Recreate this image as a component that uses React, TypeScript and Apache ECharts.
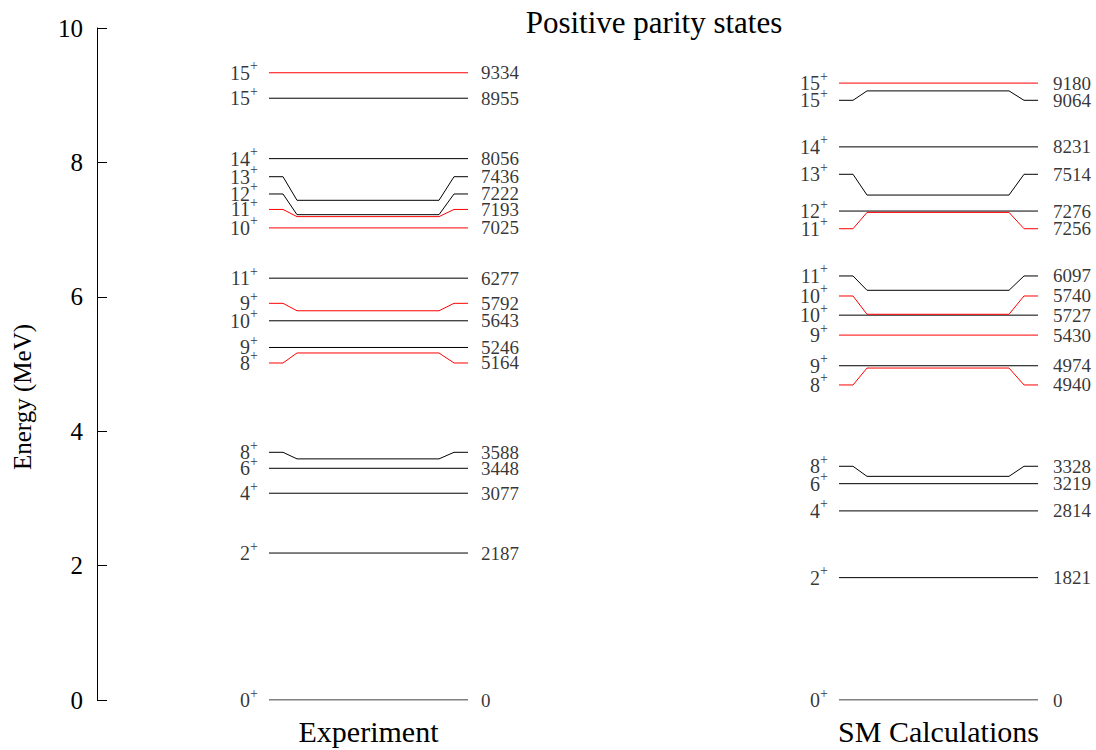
import React, { useEffect, useRef } from "react";
import * as echarts from "echarts";

// ---- data (energies in keV) ----
const expEnergies = [0, 2187, 3077, 3448, 3588, 5164, 5246, 5643, 5792, 6277, 7025, 7193, 7222, 7436, 8056, 8955, 9334];
const expSpins = ["0", "2", "4", "6", "8", "8", "9", "10", "9", "11", "10", "11", "12", "13", "14", "15", "15"];
const expRed = [false, false, false, false, false, true, false, false, true, false, true, true, false, false, false, false, true];
// energy at which the level's end stubs and labels sit (shifted to avoid overlap)
const expLabelEnergies = [0, 2187, 3077, 3448, 3686, 5015, 5246, 5643, 5903, 6277, 7025, 7300, 7530, 7787, 8056, 8955, 9334];

const smEnergies = [0, 1821, 2814, 3219, 3328, 4940, 4974, 5430, 5727, 5740, 6097, 7256, 7276, 7514, 8231, 9064, 9180];
const smSpins = ["0", "2", "4", "6", "8", "8", "9", "9", "10", "10", "11", "11", "12", "13", "14", "15", "15"];
const smRed = [false, false, false, false, false, true, false, true, false, true, false, true, false, false, false, false, true];
const smLabelEnergies = [0, 1821, 2814, 3219, 3478, 4688, 4974, 5430, 5727, 6012, 6310, 7013, 7276, 7823, 8231, 8924, 9180];

const columnNames = ["Experiment", "SM Calculations"];
const yTicks = [0, 2, 4, 6, 8, 10];

// ---- layout ----
const FONT = "Liberation Serif";
const COLUMN_X = [269, 839];
const SEG = [0, 14, 28, 170, 185, 199];

type Col = { energies: number[]; spins: string[]; red: boolean[]; labelE: number[] };
const columns: Col[] = [
  { energies: expEnergies, spins: expSpins, red: expRed, labelE: expLabelEnergies },
  { energies: smEnergies, spins: smSpins, red: smRed, labelE: smLabelEnergies },
];

export default function App() {
  const ref = useRef<HTMLDivElement>(null);
  useEffect(() => {
    if (!ref.current) return;
    const chart = echarts.init(ref.current, undefined, { renderer: "svg" });
    const series: any[] = [];
    columns.forEach((col, ci) => {
      const x0 = COLUMN_X[ci];
      const order = col.energies.map((_, i) => i).sort((a, b) => Number(col.red[a]) - Number(col.red[b]));
      order.forEach((i) => {
        const e = col.energies[i] / 1000;
        const le = col.labelE[i] / 1000;
        series.push({
          type: "line",
          silent: true,
          symbol: "none",
          lineStyle: { color: col.red[i] ? "#ff0000" : "#000000", width: 1 },
          data: SEG.map((o, k) => [x0 + o, k === 0 || k === 1 || k === 4 || k === 5 ? le : e]),
          z: col.red[i] ? 3 : 2,
        });
      });
      series.push({
        type: "scatter",
        silent: true,
        symbolSize: 0,
        data: col.energies.map((_, i) => ({
          value: [x0, col.labelE[i] / 1000],
          label: {
            show: true,
            position: "left",
            distance: 11,
            formatter: `{a|${col.spins[i]}}{s|+}`,
            rich: {
              a: { fontSize: 20, fontFamily: FONT, color: "#000", lineHeight: 28 },
              s: { fontSize: 14, fontFamily: FONT, color: "#000", lineHeight: 14, verticalAlign: "top" },
            },
          },
        })),
      });
      series.push({
        type: "scatter",
        silent: true,
        symbolSize: 0,
        data: col.energies.map((_, i) => ({
          value: [x0 + SEG[5], col.labelE[i] / 1000],
          label: {
            show: true,
            position: "right",
            distance: ci === 0 ? 13 : 15,
            formatter: String(col.energies[i]),
            fontSize: 19,
            fontFamily: FONT,
            color: "#000",
          },
        })),
      });
    });

    chart.setOption({
      animation: false,
      backgroundColor: "#ffffff",
      title: {
        text: "Positive parity states",
        left: 649,
        top: 2,
        textAlign: "center",
        textStyle: { fontSize: 31, fontWeight: "normal", fontFamily: FONT, color: "#000" },
      },
      grid: { left: 97, right: 0, top: 28, bottom: 50 },
      xAxis: { type: "value", min: 97, max: 1096, show: false },
      yAxis: {
        type: "value",
        min: yTicks[0],
        max: yTicks[yTicks.length - 1],
        interval: 2,
        axisLine: { show: true, lineStyle: { color: "#000", width: 1 } },
        axisTick: { show: true, inside: true, length: 10, lineStyle: { color: "#000" } },
        axisLabel: { fontSize: 25, fontFamily: FONT, color: "#000", margin: 14 },
        splitLine: { show: false },
      },
      graphic: [
        {
          type: "text",
          x: 22,
          y: 397,
          rotation: Math.PI / 2,
          style: {
            text: "Energy (MeV)",
            fontSize: 25,
            fontFamily: FONT,
            fill: "#000",
            textAlign: "center",
            textVerticalAlign: "middle",
          },
        },
        ...columnNames.map((name, ci) => ({
          type: "text",
          x: COLUMN_X[ci] + SEG[5] / 2,
          y: 731,
          style: {
            text: name,
            fontSize: 30,
            fontFamily: FONT,
            fill: "#000",
            textAlign: "center",
            textVerticalAlign: "middle",
          },
        })),
      ],
      series,
    });
    return () => chart.dispose();
  }, []);
  return (
    <div
      ref={ref}
      style={{ position: "fixed", left: 0, top: 0, width: 1096, height: 750, background: "#fff" }}
    />
  );
}
